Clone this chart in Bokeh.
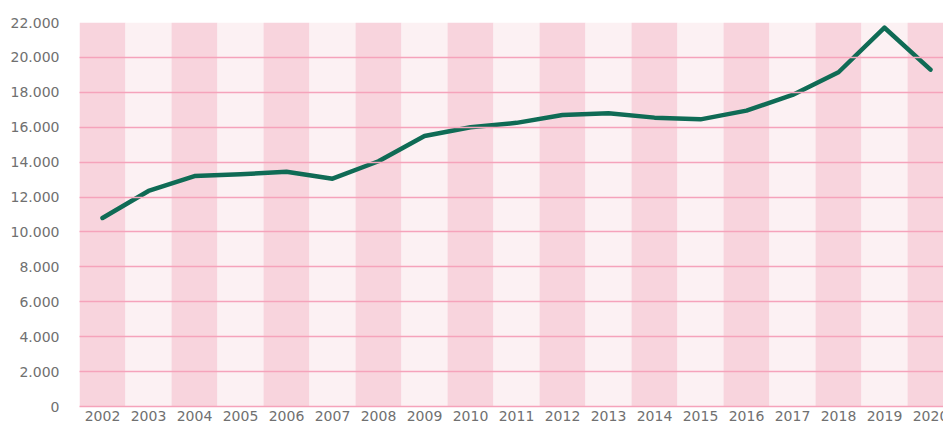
from bokeh.plotting import figure
from bokeh.models import FixedTicker, Range1d
from bokeh.core.properties import value
from bokeh.embed import file_html
from bokeh.resources import INLINE

years = list(range(2002, 2021))
year_labels = [str(y) for y in years]
values = [10800, 12350, 13200, 13300, 13450, 13050, 14050, 15500, 16000, 16250,
          16700, 16800, 16550, 16450, 16950, 17850, 19150, 21700, 19300]
y_ticks = [0, 2000, 4000, 6000, 8000, 10000, 12000, 14000, 16000, 18000, 20000, 22000]
y_tick_labels = ["0", "2.000", "4.000", "6.000", "8.000", "10.000", "12.000",
                 "14.000", "16.000", "18.000", "20.000", "22.000"]

band_dark = "#f8d4dd"
band_light = "#fcf1f3"
grid_color = "#f5a3bb"
line_color = "#0f6b55"
text_color = "#707070"
font = "DejaVu Sans"

# plot frame: x 79..943, y 22..424 (value 0 at 406)
y_max = y_ticks[-1]
px_per_unit = 384 / y_max
y_min = -18 / px_per_unit

p = figure(width=943, height=424, output_backend="svg", toolbar_location=None,
           x_range=Range1d(2001.5, 2001.5 + (943 - 79) / 46),
           y_range=Range1d(y_min, y_max),
           min_border_left=79, min_border_right=0, min_border_top=22, min_border_bottom=0)
p.outline_line_color = None
p.background_fill_color = "white"
p.xaxis.visible = False

band_colors = [band_dark if i % 2 == 0 else band_light for i in range(len(years))]
p.vbar(x=years, top=[y_max] * len(years), bottom=0, width=1.0,
       fill_color=band_colors, line_color=None)

p.xgrid.grid_line_color = None
p.ygrid.grid_line_color = grid_color
p.ygrid.grid_line_width = 1.5
p.ygrid.level = "overlay"
p.ygrid.ticker = FixedTicker(ticks=y_ticks)

p.line(x=years, y=values, line_color=line_color, line_width=4.5,
       line_join="round", line_cap="round")

p.text(x=years, y=[0] * len(years), text=year_labels, text_align="center",
       text_baseline="top", y_offset=4, text_font=value(font),
       text_font_size="14px", text_color=text_color)

p.yaxis.ticker = FixedTicker(ticks=y_ticks)
p.yaxis.major_label_overrides = {t: l for t, l in zip(y_ticks, y_tick_labels)}
ax = p.yaxis[0]
ax.axis_line_color = None
ax.major_tick_line_color = None
ax.minor_tick_line_color = None
ax.major_label_text_font = font
ax.major_label_text_font_size = "14px"
ax.major_label_text_color = text_color
ax.major_label_standoff = 14

open("out.html", "w").write(file_html(p, INLINE))
